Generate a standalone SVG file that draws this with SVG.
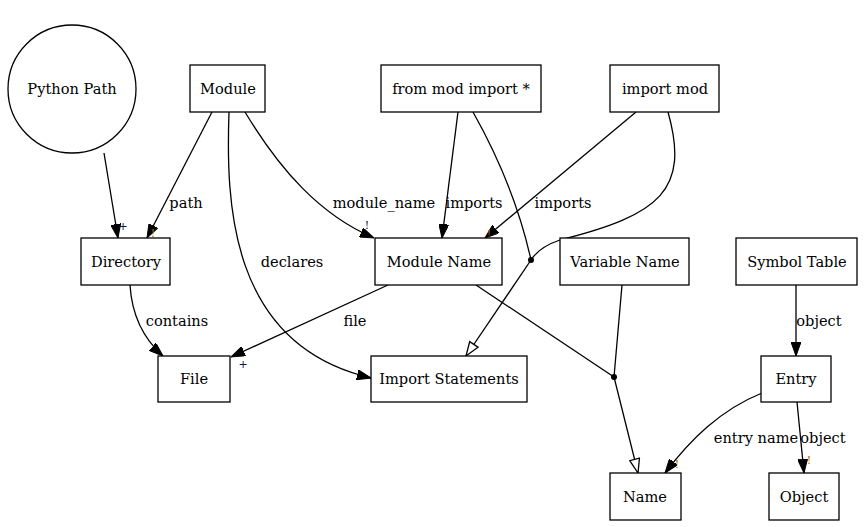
<svg xmlns="http://www.w3.org/2000/svg" width="867" height="527" viewBox="0 0 867 527">
<style>
.n{fill:#fff;stroke:#000;stroke-width:1.3}
text{font-family:'DejaVu Serif',serif}
.t{font-size:14.6px;fill:#000;text-anchor:middle}
.l{font-size:14.6px;fill:#000;text-anchor:middle}
.s{font-size:11px;text-anchor:middle}
.e{fill:none;stroke:#000;stroke-width:1.3}
.a{marker-end:url(#fa)}
.h{marker-end:url(#ha)}
</style>
<defs>
<marker id="fa" viewBox="0 0 14 10" refX="14" refY="5" markerWidth="14" markerHeight="10" markerUnits="userSpaceOnUse" orient="auto">
<path d="M0,0 L14,5 L0,10 Z" fill="#000" stroke="#000"/>
</marker>
<marker id="ha" viewBox="0 0 16 12" refX="15" refY="6" markerWidth="16" markerHeight="12" markerUnits="userSpaceOnUse" orient="auto">
<path d="M1,1 L15,6 L1,11 Z" fill="#fff" stroke="#000" stroke-width="1.3"/>
</marker>
</defs>
<rect width="867" height="527" fill="#fff"/>
<g id="connectors">
<path class="e a" d="M104,153 L118,238"/>
<text class="s" x="123" y="230" fill="#10104a">+</text>
<path class="e a" d="M212,112 L147,238"/>
<text class="l" x="186" y="208">path</text>
<text class="s" x="153" y="237" fill="#b06800">!</text>
<path class="e a" d="M229,112 C226,200 228,345 371,378"/>
<text class="l" x="292" y="267">declares</text>
<path class="e a" d="M245,112 C280,170 320,215 374,238"/>
<text class="l" x="384" y="208">module_name</text>
<text class="s" x="367" y="229" fill="#10104a">!</text>
<path class="e a" d="M388,285 L231,357"/>
<text class="l" x="355" y="326">file</text>
<text class="s" x="243" y="368" fill="#10104a">+</text>
<path class="e a" d="M130,285 C132,318 145,340 163,356"/>
<text class="l" x="177" y="326">contains</text>
<path class="e a" d="M458,112 L442,238"/>
<text class="l" x="474" y="208">imports</text>
<path class="e a" d="M636,112 L485,238"/>
<text class="l" x="563" y="208">imports</text>
<text class="s" x="489" y="238" fill="#b06800">!</text>
<path class="e" d="M473,112 C500,160 520,210 531,260"/>
<path class="e" d="M668,112 C690,190 660,215 560,240 C545,245 536,252 531,260"/>
<circle cx="531" cy="260" r="3" fill="#000"/>
<path class="e h" d="M531,260 L466,356"/>
<path class="e" d="M476,285 L614,377"/>
<path class="e" d="M622,285 L614,377"/>
<circle cx="614" cy="377" r="3" fill="#000"/>
<path class="e h" d="M614,377 L638,473"/>
<path class="e a" d="M796,285 L796,356"/>
<text class="l" x="819" y="326">object</text>
<path class="e a" d="M762,393 C720,410 690,440 665,473"/>
<text class="l" x="756" y="443">entry name</text>
<text class="s" x="677" y="468" fill="#b06800">!</text>
<path class="e a" d="M797,402 L804,473"/>
<text class="l" x="823" y="443">object</text>
<text class="s" x="809" y="464" fill="#b06800">!</text>
</g>
<g id="python_path"><circle class="n" cx="72" cy="89" r="64"/><text class="t" x="72" y="94">Python Path</text></g>
<g id="module"><rect class="n" x="190" y="65" width="75" height="47"/><text class="t" x="228" y="94">Module</text></g>
<g id="from_mod_import"><rect class="n" x="381" y="65" width="160" height="47"/><text class="t" x="461" y="94">from mod import *</text></g>
<g id="import_mod"><rect class="n" x="610" y="65" width="109" height="47"/><text class="t" x="665" y="94">import mod</text></g>
<g id="directory"><rect class="n" x="81" y="238" width="89" height="47"/><text class="t" x="126" y="267">Directory</text></g>
<g id="module_name"><rect class="n" x="375" y="238" width="127" height="47"/><text class="t" x="439" y="267">Module Name</text></g>
<g id="variable_name"><rect class="n" x="560" y="238" width="129" height="47"/><text class="t" x="625" y="267">Variable Name</text></g>
<g id="symbol_table"><rect class="n" x="736" y="238" width="121" height="47"/><text class="t" x="797" y="267">Symbol Table</text></g>
<g id="file"><rect class="n" x="158" y="356" width="72" height="46"/><text class="t" x="194" y="384">File</text></g>
<g id="import_statements"><rect class="n" x="371" y="356" width="156" height="46"/><text class="t" x="449" y="384">Import Statements</text></g>
<g id="entry"><rect class="n" x="761" y="356" width="70" height="46"/><text class="t" x="796" y="384">Entry</text></g>
<g id="name"><rect class="n" x="610" y="473" width="71" height="47"/><text class="t" x="645" y="502">Name</text></g>
<g id="object"><rect class="n" x="769" y="473" width="70" height="47"/><text class="t" x="804" y="502">Object</text></g>
</svg>
